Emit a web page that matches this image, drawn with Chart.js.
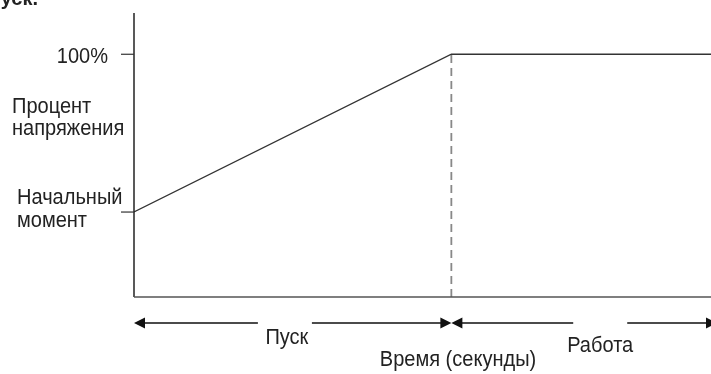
<!DOCTYPE html>
<html>
<head>
<meta charset="utf-8">
<script src="https://cdn.jsdelivr.net/npm/chart.js@4.4.1/dist/chart.umd.min.js"></script>
<style>
  html, body { margin: 0; padding: 0; background: #fff; }
  #wrap { width: 711px; height: 374px; position: relative; }
</style>
</head>
<body>
<div id="wrap"><canvas id="startChart"></canvas></div>
<script>
// Профиль пуска: напряжение растёт от начального момента до 100%, затем работа
const rampTime = [0, 5.5, 10];          // секунды (условные)
const voltagePct = [35, 100, 100];      // процент напряжения
const startEnd = 5.5;                   // конец пуска
const xMax = 10;
const yMax = 117;
const yTickValues = [100, 35];
const yTickLabels = [["100%"], ["Начальный", "момент"]];
const yAxisTitle = ["Процент", "напряжения"];
const phaseLabels = ["Пуск", "Работа"];
const phaseLabelX = [2.65, 8.08];
const xAxisTitle = "Время (секунды)";

const FONT = '22px "Liberation Sans", Arial, sans-serif';

// узкий шрифт: сжимаем текст по горизонтали
function narrowText(ctx, text, x, y, align) {
    ctx.save();
    ctx.translate(x, y);
    ctx.scale(0.91, 1);
    ctx.textAlign = align;
    ctx.fillText(text, 0, 0);
    ctx.restore();
}

function arrowHead(ctx, tipX, y, dir) {
    // dir = -1 -> влево, 1 -> вправо
    ctx.beginPath();
    ctx.moveTo(tipX, y);
    ctx.lineTo(tipX - dir * 11, y - 5.5);
    ctx.lineTo(tipX - dir * 11, y + 5.5);
    ctx.closePath();
    ctx.fill();
}

const annotations = {
    id: "annotations",
    afterDraw(chart) {
        const ctx = chart.ctx;
        const xs = chart.scales.x;
        const ys = chart.scales.y;
        const area = chart.chartArea;
        ctx.save();

        // оси
        ctx.strokeStyle = "#222";
        ctx.lineWidth = 1.5;
        ctx.beginPath();
        ctx.moveTo(area.left, area.top);
        ctx.lineTo(area.left, area.bottom);
        ctx.stroke();
        ctx.strokeStyle = "#555";
        ctx.beginPath();
        ctx.moveTo(area.left, area.bottom);
        ctx.lineTo(area.right, area.bottom);
        ctx.stroke();

        // засечки на оси Y и подписи
        ctx.font = FONT;
        ctx.fillStyle = "#222";
        ctx.strokeStyle = "#333";
        ctx.lineWidth = 1.2;
        yTickValues.forEach((v) => {
            const py = ys.getPixelForValue(v);
            ctx.beginPath();
            ctx.moveTo(area.left - 13, py);
            ctx.lineTo(area.left, py);
            ctx.stroke();
        });
        narrowText(ctx, yTickLabels[0][0], 108, ys.getPixelForValue(100) + 9, "right");
        const initY = ys.getPixelForValue(35);
        narrowText(ctx, yTickLabels[1][0], 17, initY - 8, "left");
        narrowText(ctx, yTickLabels[1][1], 17, initY + 15, "left");
        narrowText(ctx, yAxisTitle[0], 12, 113, "left");
        narrowText(ctx, yAxisTitle[1], 12, 135, "left");

        // стрелки фаз
        const ay = area.bottom + 26;
        const x0 = xs.getPixelForValue(0);
        const x1 = xs.getPixelForValue(startEnd);
        const x2 = xs.getPixelForValue(xMax) + 6;
        const gap = 27;
        const g1 = xs.getPixelForValue(phaseLabelX[0]) - 2;
        const g2 = xs.getPixelForValue(phaseLabelX[1]);
        ctx.strokeStyle = "#111";
        ctx.fillStyle = "#111";
        ctx.lineWidth = 1.3;
        ctx.beginPath();
        ctx.moveTo(x0 + 5, ay); ctx.lineTo(g1 - gap, ay);
        ctx.moveTo(g1 + gap, ay); ctx.lineTo(x1 - 5, ay);
        ctx.moveTo(x1 + 5, ay); ctx.lineTo(g2 - gap, ay);
        ctx.moveTo(g2 + gap, ay); ctx.lineTo(x2 - 5, ay);
        ctx.stroke();
        arrowHead(ctx, x0, ay, -1);
        arrowHead(ctx, x1, ay, 1);
        arrowHead(ctx, x1, ay, -1);
        arrowHead(ctx, x2, ay, 1);

        ctx.fillStyle = "#222";
        narrowText(ctx, phaseLabels[0], xs.getPixelForValue(phaseLabelX[0]), ay + 21, "center");
        narrowText(ctx, phaseLabels[1], xs.getPixelForValue(phaseLabelX[1]), ay + 29, "center");
        narrowText(ctx, xAxisTitle, 458, ay + 43, "center");

        // обрезанный заголовок сверху
        ctx.font = 'bold 20px "Liberation Sans", Arial, sans-serif';
        ctx.textAlign = "right";
        ctx.fillText("Пуск.", 38, 5);

        ctx.restore();
    },
};

new Chart(document.getElementById("startChart"), {
    type: "scatter",
    data: {
        datasets: [
            {
                data: rampTime.map((t, i) => ({ x: t, y: voltagePct[i] })),
                showLine: true,
                borderColor: "#333",
                borderWidth: 1.3,
                pointRadius: 0,
                tension: 0,
            },
            {
                data: [{ x: startEnd, y: 0 }, { x: startEnd, y: 100 }],
                showLine: true,
                borderColor: "#888",
                borderWidth: 1.8,
                borderDash: [8, 5],
                pointRadius: 0,
            },
        ],
    },
    options: {
        responsive: true,
        maintainAspectRatio: false,
        animation: false,
        events: [],
        layout: { padding: { top: 13, right: 0, left: 0, bottom: 0 } },
        plugins: { legend: { display: false }, tooltip: { enabled: false } },
        scales: {
            x: {
                type: "linear",
                min: 0,
                max: xMax,
                grid: { display: false, drawTicks: false },
                border: { display: false },
                ticks: { display: false },
                afterFit(scale) { scale.height = 77; },
            },
            y: {
                type: "linear",
                min: 0,
                max: yMax,
                grid: { display: false, drawTicks: false },
                border: { display: false },
                ticks: { display: false },
                afterFit(scale) { scale.width = 134; },
            },
        },
    },
    plugins: [annotations],
});
</script>
</body>
</html>
